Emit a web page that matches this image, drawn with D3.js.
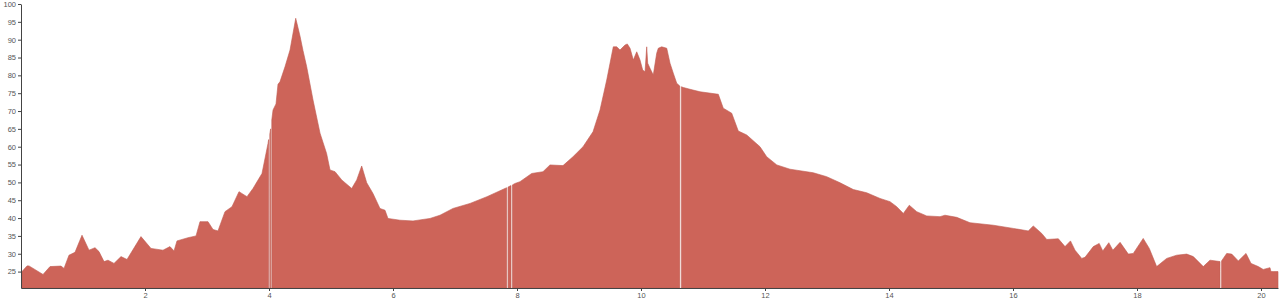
<!DOCTYPE html>
<html>
<head>
<meta charset="utf-8">
<script src="https://cdn.jsdelivr.net/npm/d3@7"></script>
<style>
  html, body { margin: 0; padding: 0; background: #fff; }
  svg { display: block; }
  .axis text { fill: #555; font-family: "Liberation Sans", Arial, sans-serif; font-size: 7.5px; }
  .axis path, .axis line { stroke: #444; }
</style>
</head>
<body>
<svg id="chart" width="1282" height="306"></svg>
<script>
// x positions (distance units)
const xs = [
  0.016, 0.097, 0.129, 0.355, 0.468, 0.645, 0.694, 0.774, 0.871, 0.984,
  1.097, 1.194, 1.258, 1.339, 1.403, 1.5, 1.613, 1.71, 1.935, 2.097,
  2.29, 2.403, 2.468, 2.516, 2.694, 2.823, 2.887, 3.016, 3.097, 3.177,
  3.29, 3.403, 3.516, 3.645, 3.742, 3.887, 3.984, 3.994, 4.003, 4.013,
  4.026, 4.035, 4.045, 4.065, 4.113, 4.145, 4.177, 4.258, 4.339, 4.431,
  4.5, 4.548, 4.608, 4.71, 4.823, 4.929, 4.984, 5.065, 5.173, 5.334,
  5.415, 5.495, 5.576, 5.677, 5.79, 5.871, 5.919, 6.113, 6.323, 6.597,
  6.758, 6.968, 7.242, 7.516, 7.806, 7.834, 7.845, 7.856, 7.903, 7.914,
  7.926, 7.968, 8.048, 8.237, 8.419, 8.532, 8.742, 8.903, 9.065, 9.226,
  9.339, 9.447, 9.553, 9.608, 9.661, 9.742, 9.779, 9.823, 9.876, 9.931,
  9.984, 10.027, 10.065, 10.092, 10.108, 10.145, 10.198, 10.253, 10.279, 10.334,
  10.415, 10.468, 10.521, 10.576, 10.626, 10.639, 10.652, 10.682, 10.79, 10.952,
  11.247, 11.327, 11.463, 11.569, 11.705, 11.919, 12.027, 12.19, 12.403, 12.779,
  12.995, 13.21, 13.424, 13.64, 13.855, 14.016, 14.124, 14.231, 14.327, 14.447,
  14.608, 14.823, 14.903, 15.092, 15.306, 15.682, 16.005, 16.247, 16.327, 16.463,
  16.544, 16.731, 16.839, 16.927, 17.0, 17.108, 17.161, 17.295, 17.39, 17.448,
  17.545, 17.61, 17.727, 17.86, 17.94, 18.1, 18.198, 18.317, 18.479, 18.64,
  18.802, 18.908, 19.069, 19.177, 19.339, 19.351, 19.364, 19.447, 19.528, 19.634,
  19.758, 19.839, 19.956, 20.036, 20.145, 20.16, 20.198, 20.274
];
// values (null = gap in the record)
const values = [
  25.0, 26.6, 26.6, 24.2, 26.4, 26.55, 25.9, 29.6, 30.4, 35.2,
  31.0, 31.7, 30.6, 27.8, 28.2, 27.3, 29.2, 28.4, 34.8, 31.5,
  31.0, 32.0, 30.8, 33.6, 34.5, 35.0, 39.0, 39.0, 36.8, 36.4,
  41.8, 43.2, 47.4, 46.0, 48.3, 52.5, 60.9, 62.0, null, 63.5,
  65.0, null, 67.5, 70.3, 72.0, 77.5, 78.2, 82.4, 87.1, 96.0,
  91.0, 87.0, 82.4, 73.1, 63.8, 58.1, 53.5, 53.0, 50.7, 48.3,
  50.7, 54.6, 49.9, 46.9, 42.7, 42.2, 39.9, 39.4, 39.2, 39.9,
  40.8, 42.7, 44.1, 46.0, 48.3, 48.5, null, 48.7, 49.1, null,
  49.3, 49.7, 50.2, 52.5, 53.0, 54.9, 54.7, 57.2, 60.0, 64.2,
  70.3, 78.7, 88.0, 88.0, 87.1, 88.5, 88.8, 87.6, 84.3, 86.6,
  84.3, 81.5, 81.0, 88.0, 83.4, 82.0, 80.1, 86.2, 87.6, 88.0,
  87.6, 83.4, 80.6, 77.8, 77.0, null, 76.8, 76.6, 76.1, 75.4,
  74.7, 70.8, 69.4, 64.4, 63.3, 60.0, 57.2, 54.9, 53.7, 52.7,
  51.6, 49.9, 48.0, 47.1, 45.5, 44.6, 43.2, 41.3, 43.6, 41.8,
  40.6, 40.4, 40.8, 40.2, 38.7, 38.0, 37.1, 36.4, 37.8, 35.7,
  34.0, 34.2, 32.0, 33.6, 31.0, 28.7, 29.0, 32.0, 32.9, 30.8,
  33.1, 31.0, 33.2, 29.9, 30.1, 34.3, 31.5, 26.4, 28.7, 29.6,
  29.9, 29.2, 26.4, 28.2, 27.8, null, 28.0, 30.1, 29.9, 28.0,
  30.1, 27.3, 26.4, 25.6, 26.1, 25.0, 25.0, 25.0
];
const xTickValues = [2, 4, 6, 8, 10, 12, 14, 16, 18, 20];
const yTickValues = [25, 30, 35, 40, 45, 50, 55, 60, 65, 70, 75, 80, 85, 90, 95, 100];

const margin = { left: 21, top: 4 };
const plotW = 1257, plotH = 284;
const yMin = 20.4, yMax = 100;

const data = xs.map((x, i) => ({ x, v: values[i] }));

const svg = d3.select("#chart");
const g = svg.append("g").attr("transform", `translate(${margin.left},${margin.top})`);

const x = d3.scaleLinear().domain([0, d3.max(xs)]).range([0, plotW]);
const y = d3.scaleLinear().domain([yMin, yMax]).range([plotH, 0]);

const area = d3.area()
  .defined(d => d.v !== null)
  .x(d => x(d.x))
  .y0(plotH)
  .y1(d => y(d.v));

g.append("path")
  .datum(data)
  .attr("d", area)
  .attr("fill", "#cd6459")
  .attr("stroke", "#c05a50")
  .attr("stroke-width", 0.6);

g.append("g")
  .attr("class", "axis")
  .attr("transform", `translate(0,${plotH})`)
  .call(d3.axisBottom(x).tickValues(xTickValues).tickSize(3).tickSizeOuter(0).tickPadding(2));

g.append("g")
  .attr("class", "axis")
  .call(d3.axisLeft(y).tickValues(yTickValues).tickSize(3).tickSizeOuter(0).tickPadding(2));
</script>
</body>
</html>
